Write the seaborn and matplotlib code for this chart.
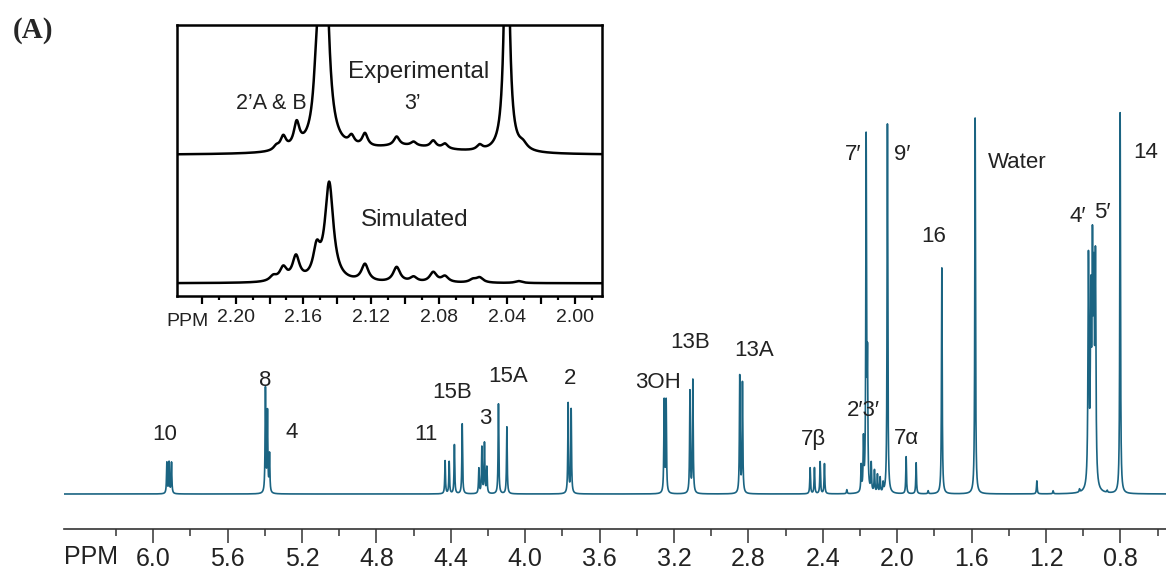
import numpy as np
import pandas as pd
import matplotlib
matplotlib.use("Agg")
import matplotlib.pyplot as plt
from matplotlib.ticker import FixedLocator, FuncFormatter
import seaborn as sns

# ---------------- 1H NMR peak list (full spectrum) ----------------
# chemical shift (ppm), peak height (a.u.), half-width at half-height (ppm)
main_shift = [5.927, 5.915, 5.902,
              5.397, 5.386, 5.375,
              4.431, 4.409, 4.381, 4.339,
              4.2495, 4.2333, 4.2194, 4.2065,
              4.1441, 4.0989,
              3.7694, 3.7532,
              3.2532, 3.2425,
              3.1145, 3.0989,
              2.8468, 2.8323,
              2.4683, 2.4452, 2.4145, 2.3914,
              2.271,
              2.194, 2.1817, 2.1672, 2.160, 2.140, 2.1226, 2.1065, 2.092, 2.076,
              2.0528,
              1.9522, 1.8984,
              1.834,
              1.7602,
              1.5812,
              1.2495, 1.162, 1.02,
              0.9720, 0.9592, 0.9505, 0.9430, 0.9344,
              0.871,
              0.8016]
main_height = [31, 31, 31,
               104, 80, 38,
               33, 32, 49, 70,
               25, 46, 50, 26,
               90, 67,
               90, 84,
               92, 92,
               102, 113,
               117, 110,
               26, 26, 32, 30,
               4,
               26, 50, 350, 120, 28, 22, 18, 15, 9,
               370,
               37, 31,
               3,
               226,
               376,
               13, 3, 3,
               227, 175, 214, 180, 217,
               2,
               381]
main_hw = [0.0022] * 47 + [0.003] * 5 + [0.0022] * 2

# peak assignments: label, shift (ppm), height (a.u.)
assign_label = ["10", "8", "4", "11", "15B", "3", "15A", "2", "3OH", "13B", "13A",
                "7\u03b2", "2\u20323\u2032", "7\u03b1", "7\u2032", "9\u2032", "16",
                "Water", "4\u2032", "5\u2032", "14"]
assign_x = [5.936, 5.398, 5.255, 4.534, 4.395, 4.216, 4.092, 3.759, 3.284, 3.113, 2.768,
            2.452, 2.183, 1.949, 2.235, 1.975, 1.805, 1.357, 1.027, 0.900, 0.662]
assign_y = [59, 113, 62, 59, 101, 76, 117, 116, 112, 151, 144,
            54, 84, 56, 339, 339, 257, 331, 277, 282, 342]

main_ticks = [6.0, 5.6, 5.2, 4.8, 4.4, 4.0, 3.6, 3.2, 2.8, 2.4, 2.0, 1.6, 1.2, 0.8]
main_minor = [6.2, 5.8, 5.4, 5.0, 4.6, 4.2, 3.8, 3.4, 3.0, 2.6, 2.2, 1.8, 1.4, 1.0, 0.6]

# ---------------- expansion of the 2.00-2.22 ppm region ----------------
exp_shift = [2.1760, 2.1719, 2.1640, 2.1522, 2.1480, 2.1316, 2.1237, 2.1050,
             2.0950, 2.0834, 2.0765, 2.0560, 2.0400, 2.0305, 2.1000]
exp_height = [4, 13, 24, 45, 300, 9, 13, 9, 4, 7, 5, 5, 300, 6, 8]
exp_hw = [0.002, 0.002, 0.002, 0.002, 0.0025, 0.002, 0.002, 0.002,
          0.002, 0.002, 0.002, 0.002, 0.0016, 0.003, 0.03]

sim_shift = [2.1778, 2.1719, 2.1644, 2.1522, 2.1448, 2.1237, 2.1050, 2.0950,
             2.0834, 2.0765, 2.0600, 2.0560, 2.0330]
sim_height = [5, 13, 24, 28, 98, 17, 15, 5, 10, 6, 3, 5, 2]
sim_hw = [0.0025, 0.0025, 0.0025, 0.0025, 0.003, 0.0025, 0.0025, 0.0025,
          0.0025, 0.0025, 0.0025, 0.0025, 0.0025]

inset_ticks = [2.22, 2.20, 2.18, 2.16, 2.14, 2.12, 2.10, 2.08, 2.06, 2.04, 2.02, 2.00]
inset_labelled = [2.20, 2.16, 2.12, 2.08, 2.04, 2.00]
inset_minor = [2.21, 2.19, 2.17, 2.15, 2.13, 2.11, 2.09, 2.07, 2.05, 2.03, 2.01, 1.99]


def lorentz_sum(x, centers, heights, hw):
    c = np.asarray(centers, dtype=float)[None, :]
    h = np.asarray(heights, dtype=float)[None, :]
    w = np.asarray(hw, dtype=float)[None, :]
    return (h * w ** 2 / (w ** 2 + (x[:, None] - c) ** 2)).sum(axis=1)


sns.set_style("white")
plt.rcParams["font.family"] = ["Liberation Sans", "DejaVu Sans"]
NARROW = ["Liberation Sans Narrow", "Liberation Sans", "DejaVu Sans"]

W, H = 1166, 572
fig = plt.figure(figsize=(W / 100, H / 100), dpi=100)


def fx(px):
    return px / W


def fy(py):
    return 1 - py / H


SPEC = "#1b6482"
INK = "#222222"

# ---------------- full spectrum ----------------
ax = fig.add_axes([fx(64), fy(529), fx(1166) - fx(64), fy(100) - fy(529)])
ax.patch.set_alpha(0)
ppm = np.linspace(6.48, 0.555, 40000)
spec = pd.DataFrame({"ppm": ppm,
                     "I": lorentz_sum(ppm, main_shift, main_height, main_hw)})
sns.lineplot(data=spec, x="ppm", y="I", ax=ax, color=SPEC, lw=1.2,
             estimator=None, sort=False)
ax.set_xlim(6.48, 0.555)
ax.set_ylim(-35, 394)
for s in ("left", "top", "right"):
    ax.spines[s].set_visible(False)
ax.spines["bottom"].set_color("#333333")
ax.spines["bottom"].set_linewidth(1.2)
ax.set_yticks([])
ax.set_xlabel("")
ax.set_ylabel("")
ax.xaxis.set_major_locator(FixedLocator(main_ticks))
ax.xaxis.set_minor_locator(FixedLocator(main_minor))
ax.xaxis.set_major_formatter(FuncFormatter(lambda v, p: f"{v:.1f}"))
ax.tick_params(axis="x", which="major", direction="out", length=10, width=1.1,
               color="#333333", labelsize=18, labelcolor=INK, pad=3)
ax.tick_params(axis="x", which="minor", direction="out", length=5, width=1.1,
               color="#333333")
ax.tick_params(axis="x", which="both", bottom=True)
fig.text(fx(91), fy(557), "PPM", ha="center", va="center", fontsize=18, color=INK)

for lab, x, y in zip(assign_label, assign_x, assign_y):
    ax.text(x, y, lab, ha="center", va="center", fontsize=16, color=INK,
            family=NARROW)

# ---------------- expansion inset ----------------
axi = fig.add_axes([fx(177), fy(296), fx(601.7) - fx(177), fy(25) - fy(296)])
axi.set_facecolor("white")
z = np.linspace(2.2346, 1.984, 4000)
EXP_BASE, SIM_BASE = 141, 12.7
traces = pd.concat([
    pd.DataFrame({"ppm": z, "I": EXP_BASE + lorentz_sum(z, exp_shift, exp_height, exp_hw),
                  "trace": "Experimental"}),
    pd.DataFrame({"ppm": z, "I": SIM_BASE + lorentz_sum(z, sim_shift, sim_height, sim_hw),
                  "trace": "Simulated"}),
])
sns.lineplot(data=traces, x="ppm", y="I", units="trace", ax=axi, color="black",
             lw=1.8, estimator=None, sort=False)
axi.set_xlim(2.2346, 1.984)
axi.set_ylim(0, 271)
axi.set_xlabel("")
axi.set_ylabel("")
axi.set_yticks([])
for s in axi.spines.values():
    s.set_visible(True)
    s.set_color("black")
    s.set_linewidth(1.8)
axi.xaxis.set_major_locator(FixedLocator(inset_ticks))
axi.xaxis.set_minor_locator(FixedLocator(inset_minor))
axi.xaxis.set_major_formatter(FuncFormatter(
    lambda v, p: f"{v:.2f}" if any(abs(v - t) < 1e-6 for t in inset_labelled) else ""))
axi.tick_params(axis="x", which="major", direction="out", length=6, width=1.6,
                color="black", labelsize=14, labelcolor=INK, pad=3, bottom=True)
axi.tick_params(axis="x", which="minor", direction="out", length=3, width=1.6,
                color="black", bottom=True)
for t in axi.get_xticklabels():
    t.set_family(NARROW)
fig.text(fx(188), fy(321.7), "PPM", ha="center", va="center", fontsize=14,
         family=NARROW, color=INK)

axi.text(2.0923, 224.3, "Experimental", ha="center", va="center", fontsize=17.5,
         color=INK)
axi.text(2.0942, 76, "Simulated", ha="center", va="center", fontsize=17.5,
         color=INK)
axi.text(2.1788, 192.7, "2\u2019A & B", ha="center", va="center", fontsize=15.5,
         family=NARROW, color=INK)
axi.text(2.0954, 192.7, "3\u2019", ha="center", va="center", fontsize=15.5,
         family=NARROW, color=INK)

fig.text(fx(33), fy(30), "(A)", ha="center", va="center", fontsize=21,
         fontweight="bold", family=["Liberation Serif", "DejaVu Serif"])

fig.savefig("out.png", dpi=100)
